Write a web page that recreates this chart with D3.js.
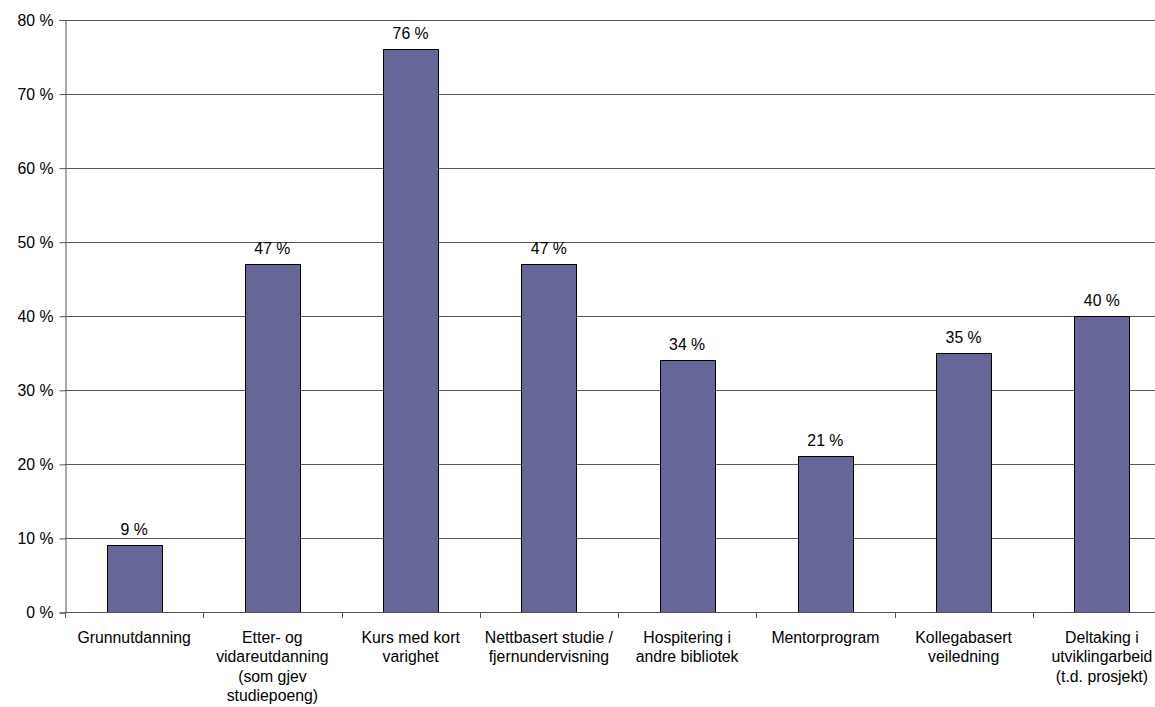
<!DOCTYPE html>
<html>
<head>
<meta charset="utf-8">
<script src="https://cdn.jsdelivr.net/npm/d3@7"></script>
<style>
  body { margin: 0; background: #fff; }
  svg { display: block; font-family: "Liberation Sans", Arial, sans-serif; }
</style>
</head>
<body>
<svg id="chart" width="1155" height="707"></svg>
<script>
var categories = [
    ['Grunnutdanning'],
    ['Etter- og', 'vidareutdanning', '(som gjev', 'studiepoeng)'],
    ['Kurs med kort', 'varighet'],
    ['Nettbasert studie /', 'fjernundervisning'],
    ['Hospitering i', 'andre bibliotek'],
    ['Mentorprogram'],
    ['Kollegabasert', 'veiledning'],
    ['Deltaking i', 'utviklingarbeid', '(t.d. prosjekt)']
];
var values = [9, 47, 76, 47, 34, 21, 35, 40];
var yTicks = [0, 10, 20, 30, 40, 50, 60, 70, 80];

var svg = d3.select('#chart');
// plot runs past the right edge, like the cropped original
var padL = 65, padR = 1171, padT = 19.5, padB = 612;
var fs = 15.8;

var x = d3.scaleBand().domain(d3.range(categories.length)).range([padL, padR]).paddingInner(0).paddingOuter(0);
var y = d3.scaleLinear().domain([0, 80]).range([padB, padT]);
var barW = 55;

// gridlines
svg.append('g').selectAll('line').data(yTicks).enter().append('line')
    .attr('x1', padL).attr('x2', padR)
    .attr('y1', function (d) { return Math.round(y(d)) + 0.5; })
    .attr('y2', function (d) { return Math.round(y(d)) + 0.5; })
    .attr('stroke', '#555').attr('stroke-width', 1);

// y axis
var yAxis = d3.axisLeft(y).tickValues(yTicks).tickSize(6).tickPadding(6)
    .tickFormat(function (d) { return d + ' %'; });
var yG = svg.append('g').attr('transform', 'translate(' + (padL + 0.5) + ',0.5)').call(yAxis);
yG.select('.domain').attr('stroke', '#555');
yG.selectAll('.tick line').attr('stroke', '#555');
yG.selectAll('.tick text').attr('font-size', fs).attr('fill', '#000')
    .attr('font-family', '"Liberation Sans", Arial, sans-serif');

// bars
svg.append('g').selectAll('rect').data(values).enter().append('rect')
    .attr('x', function (d, i) { return Math.round(x(i) + x.bandwidth() / 2 - barW / 2) + 0.5; })
    .attr('y', function (d) { return Math.round(y(d)) + 0.5; })
    .attr('width', barW)
    .attr('height', function (d) { return Math.round(y(0)) - Math.round(y(d)); })
    .attr('fill', '#666699')
    .attr('stroke', '#000').attr('stroke-width', 1);

// x axis baseline + ticks at category boundaries
svg.append('line').attr('x1', padL).attr('x2', padR)
    .attr('y1', Math.round(padB) + 0.5).attr('y2', Math.round(padB) + 0.5)
    .attr('stroke', '#555');
svg.append('g').selectAll('line').data(d3.range(categories.length + 1)).enter().append('line')
    .attr('x1', function (d) { return Math.round(padL + d * x.bandwidth()) + 0.5; })
    .attr('x2', function (d) { return Math.round(padL + d * x.bandwidth()) + 0.5; })
    .attr('y1', padB).attr('y2', padB + 6)
    .attr('stroke', '#555');

// value labels
svg.append('g').selectAll('text').data(values).enter().append('text')
    .attr('x', function (d, i) { return x(i) + x.bandwidth() / 2; })
    .attr('y', function (d) { return y(d) - 10; })
    .attr('text-anchor', 'middle').attr('font-size', fs)
    .text(function (d) { return d + ' %'; });

// category labels
var cat = svg.append('g').selectAll('text').data(categories).enter().append('text')
    .attr('text-anchor', 'middle').attr('font-size', fs)
    .attr('x', function (d, i) { return x(i) + x.bandwidth() / 2; })
    .attr('y', 643);
cat.selectAll('tspan').data(function (d) { return d; }).enter().append('tspan')
    .attr('x', function () { return d3.select(this.parentNode).attr('x'); })
    .attr('dy', function (d, i) { return i === 0 ? 0 : 19.3; })
    .text(function (d) { return d; });
</script>
</body>
</html>
